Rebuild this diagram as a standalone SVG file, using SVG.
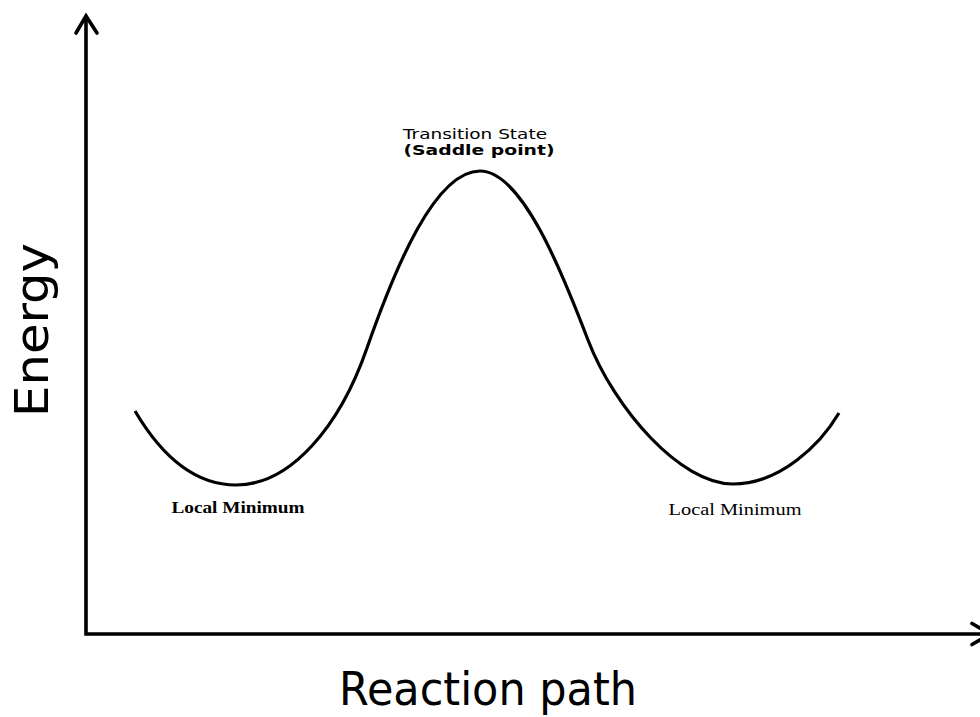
<svg xmlns="http://www.w3.org/2000/svg" width="980" height="717" viewBox="0 0 980 717">
<style>
.axis{fill:none;stroke:#000;stroke-width:3.6;stroke-linecap:square}
.head{fill:none;stroke:#000;stroke-width:3.6;stroke-linecap:round;stroke-linejoin:miter}
.curve{fill:none;stroke:#000;stroke-width:3.2;stroke-linecap:butt}
.big{font-family:"DejaVu Sans",Verdana,sans-serif;font-size:47px;fill:#000}
.ts{font-family:"DejaVu Sans",Verdana,sans-serif;font-size:13.5px;fill:#000}
.sp{font-family:"DejaVu Sans",Verdana,sans-serif;font-size:13.5px;font-weight:bold;fill:#000}
.lm{font-family:"Liberation Serif","Times New Roman",serif;font-size:17px;fill:#000}
</style>
<rect width="980" height="717" fill="#fff"/>
<g id="axes">
  <path class="axis" d="M86,20 L86,634 L985,634"/>
  <path class="head" d="M76,33 L86,16 L97,33"/>
  <path class="head" d="M972,623.5 L990,634 L972,644.5"/>
</g>
<g id="connectors">
  <path id="energy-curve" class="curve" d="M135,411 C158,450 190,485 236,485 C291,485 340,426 367,348 C395,268 435,171 480,171 C522,171 562,272 588,340 C614,408 680,484 733,484 C780,484 820,445 839,413"/>
</g>
<g id="transition-state">
  <text class="ts" x="475" y="139" text-anchor="middle" textLength="144" lengthAdjust="spacingAndGlyphs">Transition State</text>
  <text class="sp" x="479" y="155" text-anchor="middle" textLength="151" lengthAdjust="spacingAndGlyphs">(Saddle point)</text>
</g>
<g id="local-min-left">
  <text class="lm" x="238" y="513" text-anchor="middle" font-weight="bold" textLength="133" lengthAdjust="spacingAndGlyphs">Local Minimum</text>
</g>
<g id="local-min-right">
  <text class="lm" x="735" y="515" text-anchor="middle" textLength="133" lengthAdjust="spacingAndGlyphs">Local Minimum</text>
</g>
<g id="y-label">
  <text class="big" x="48" y="330" text-anchor="middle" transform="rotate(-90 48 330)" textLength="174" lengthAdjust="spacingAndGlyphs">Energy</text>
</g>
<g id="x-label">
  <text class="big" x="488" y="705" text-anchor="middle" textLength="298" lengthAdjust="spacingAndGlyphs">Reaction path</text>
</g>
</svg>
